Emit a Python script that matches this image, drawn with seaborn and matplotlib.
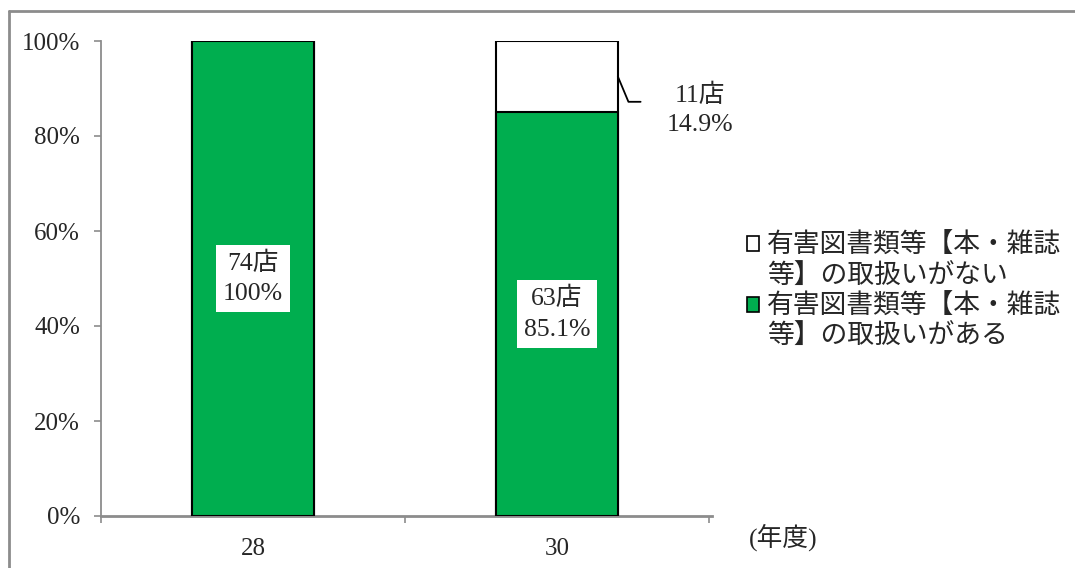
import matplotlib
matplotlib.use("Agg")
import matplotlib.pyplot as plt
from matplotlib.lines import Line2D
from matplotlib.patches import Patch
import seaborn as sns
import pandas as pd

# ---- data ----
years = ["28", "30"]
have_counts = [74, 63]
have_pct = [100.0, 85.1]
none_counts = [0, 11]
none_pct = [0.0, 14.9]
yticks = [0, 20, 40, 60, 80, 100]
label_none = "有害図書類等【本・雑誌\n等】の取扱いがない"
label_have = "有害図書類等【本・雑誌\n等】の取扱いがある"
xlabel = "(年度)"

sns.set_theme(style="white")
plt.rcParams["font.family"] = ["Liberation Serif", "Noto Sans CJK JP", "DejaVu Sans"]

GREEN = "#00AE4F"
GRAY = "#8C8C8C"

fig = plt.figure(figsize=(10.75, 5.68), dpi=100)
ax = fig.add_axes([101 / 1075, 1 - 516 / 568, 608 / 1075, 475 / 568])

df = pd.DataFrame({"year": years,
                   "total": [a + b for a, b in zip(have_pct, none_pct)],
                   "have": have_pct})

sns.barplot(data=df, x="year", y="total", color="white", edgecolor="black",
            linewidth=1.5, width=0.4, saturation=1, ax=ax, zorder=2)
sns.barplot(data=df, x="year", y="have", color=GREEN, edgecolor="black",
            linewidth=1.5, width=0.4, saturation=1, ax=ax, zorder=3)

ax.set_xlim(-0.5, 1.5)
ax.set_ylim(0, 100)
ax.set_xlabel("")
ax.set_ylabel("")

def fmt_pct(v):
    if float(v).is_integer():
        return f"{int(v)}%"
    return f"{v:.1f}%"

# in-bar labels
for i, (c, p) in enumerate(zip(have_counts, have_pct)):
    ax.text(i, p / 2, f"{c}店\n{fmt_pct(p)}", ha="center", va="center",
            fontsize=18.5, linespacing=1.5, zorder=5,
            bbox=dict(facecolor="white", edgecolor="none", pad=5))

# outside label for the "none" segment with leader line
for i, (c, p) in enumerate(zip(none_counts, none_pct)):
    if c == 0:
        continue
    base = have_pct[i]
    x0 = i + 0.2
    y0 = base + p / 2
    xb = x0 + 0.035
    yb = base + 2.1
    xe = xb + 0.04
    ax.plot([x0, xb, xe], [y0, yb, yb], color="black", lw=1.3,
            clip_on=False, zorder=4)
    ax.text(i + 0.47, base + 0.4, f"{c}店\n{fmt_pct(p)}", ha="center",
            va="center", fontsize=18.5, linespacing=1.4, clip_on=False)

# axes styling
for s in ["top", "right"]:
    ax.spines[s].set_visible(False)
ax.spines["left"].set_color(GRAY)
ax.spines["left"].set_linewidth(1.3)
ax.spines["bottom"].set_color(GRAY)
ax.spines["bottom"].set_linewidth(2)
ax.spines["bottom"].set_bounds(-0.5, 1.51)

ax.set_yticks(yticks)
ax.set_yticklabels([f"{t}%" for t in yticks])
ax.tick_params(axis="y", which="major", direction="out", length=5, width=1.2,
               color=GRAY, left=True, labelsize=18, pad=10)
ax.set_xticks(range(len(years)))
ax.set_xticklabels(years)
ax.tick_params(axis="x", which="major", length=0, labelsize=18, pad=16)
ax.set_xticks([-0.5, 0.5, 1.5], minor=True)
ax.tick_params(axis="x", which="minor", direction="out", length=5, width=1.2,
               color=GRAY, bottom=True)
ax.grid(False)

fig.text(783 / 1075, 1 - 537 / 568, xlabel, ha="center", va="center",
         fontsize=18.5)

# legend: marker aligned with the first line of each wrapped label
blank = Patch(facecolor="none", edgecolor="none")
handles, texts = [], []
for lab, fc in [(label_none, "white"), (label_have, GREEN)]:
    lines = lab.split("\n")
    handles.append(Patch(facecolor=fc, edgecolor="black", linewidth=1.2))
    texts.append(lines[0])
    for extra in lines[1:]:
        handles.append(blank)
        texts.append(extra)
fig.legend(handles, texts, loc="upper left",
           bbox_to_anchor=(747 / 1075, 1 - 234 / 568), frameon=False,
           fontsize=19.3, handlelength=0.45, handleheight=0.45,
           handletextpad=0.3, labelspacing=0.2, borderpad=0,
           borderaxespad=0)

# outer gray frame (top and left visible)
fig.add_artist(Line2D([9 / 1075, 1.0], [1 - 11 / 568, 1 - 11 / 568],
                      transform=fig.transFigure, color=GRAY, lw=2))
fig.add_artist(Line2D([9 / 1075, 9 / 1075], [1 - 11 / 568, 0.0],
                      transform=fig.transFigure, color=GRAY, lw=2))

fig.savefig("out.png", dpi=100, facecolor="white")
